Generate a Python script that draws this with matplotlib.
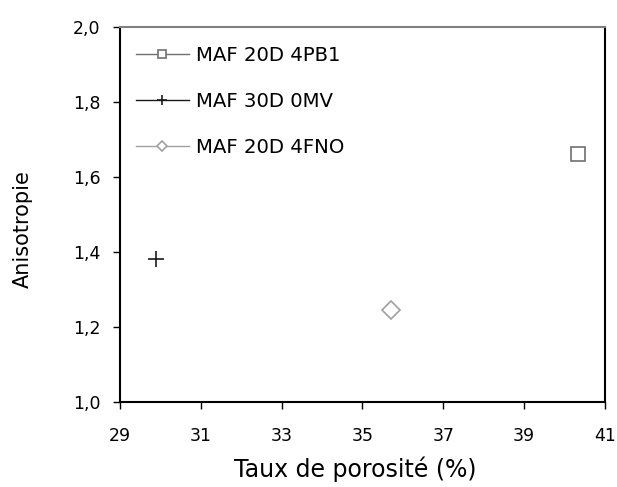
import matplotlib
matplotlib.use('Agg')
import matplotlib.pyplot as plt
from matplotlib.ticker import FuncFormatter

names = ['MAF 20D 4PB1', 'MAF 30D 0MV', 'MAF 20D 4FNO']
porosite = [40.33, 29.89, 35.70]
anisotropie = [1.66, 1.381, 1.245]
markers = ['s', '+', 'D']
colors = ['#707070', '#1a1a1a', '#a0a0a0']
sizes = [9.5, 11.5, 9]

plt.rcParams['font.family'] = 'DejaVu Sans'

fig = plt.figure(figsize=(6.17, 4.87), dpi=100)
ax = fig.add_axes([0.1945, 0.1745, 0.786, 0.771])

for i in range(3):
    ax.plot([porosite[i]], [anisotropie[i]], marker=markers[i], color=colors[i],
            markerfacecolor='white', markeredgecolor=colors[i], markersize=sizes[i],
            markeredgewidth=1.2, linestyle='-', linewidth=1.0, label=names[i])

ax.set_xlim(29, 41)
ax.set_ylim(1.0, 2.0)
ax.set_xticks([29, 31, 33, 35, 37, 39, 41])
ax.set_yticks([1.0, 1.2, 1.4, 1.6, 1.8, 2.0])
ax.yaxis.set_major_formatter(FuncFormatter(lambda v, p: f"{v:.1f}".replace('.', ',')))
ax.tick_params(direction='out', length=5, width=1, labelsize=12.5)
ax.tick_params(axis='x', pad=13)
ax.tick_params(axis='y', pad=9)
for s in ax.spines.values():
    s.set_linewidth(1.5)
ax.spines['top'].set_color('#808080')

ax.set_xlabel('Taux de porosité (%)', fontsize=17)
ax.xaxis.set_label_coords(0.485, -0.145)
ax.set_ylabel('Anisotropie', fontsize=15)
ax.yaxis.set_label_coords(-0.18, 0.46)

leg = ax.legend(loc='upper left', frameon=False, fontsize=14.2, handlelength=2.7,
                handletextpad=0.35, labelspacing=1.35, borderaxespad=0.6,
                markerscale=0.6, bbox_to_anchor=(-0.008, 1.0))

fig.savefig('out.png', dpi=100)
